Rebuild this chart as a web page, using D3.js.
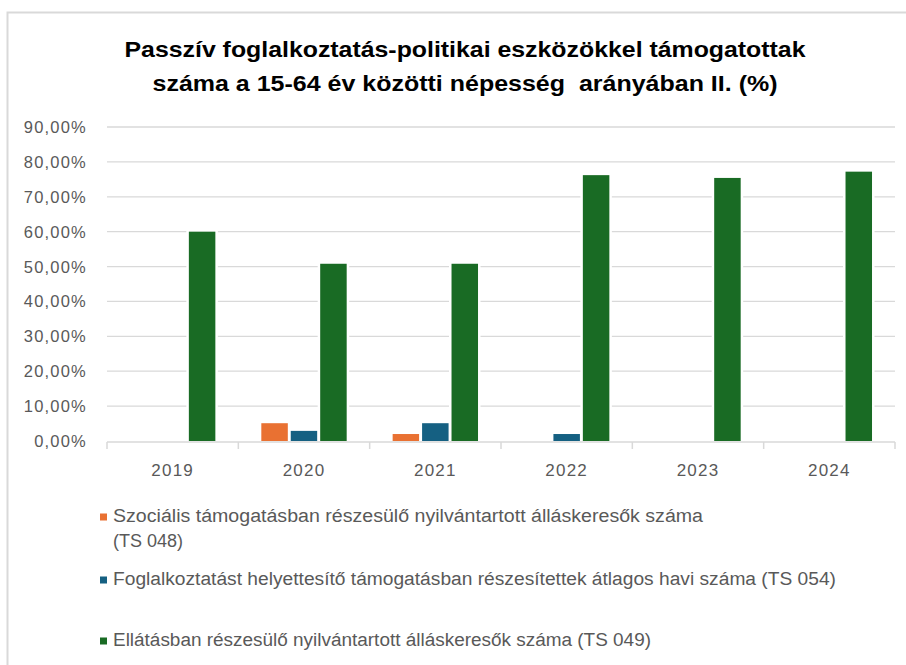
<!DOCTYPE html>
<html>
<head>
<meta charset="utf-8">
<script src="https://cdn.jsdelivr.net/npm/d3@7"></script>
<style>
  html, body { margin: 0; padding: 0; background: #fff; }
  svg { display: block; }
</style>
</head>
<body>
<svg id="chart" width="906" height="665"></svg>
<script>
const years = ["2019", "2020", "2021", "2022", "2023", "2024"];
const seriesNames = [
  "Szociális támogatásban részesülő nyilvántartott álláskeresők száma",
  "Foglalkoztatást helyettesítő támogatásban részesítettek átlagos havi száma (TS 054)",
  "Ellátásban részesülő nyilvántartott álláskeresők száma (TS 049)",
];
const ts048 = [null, 5.1, 2.0, null, null, null];
const ts054 = [null, 2.9, 5.1, 2.0, null, null];
const ts049 = [60.0, 50.8, 50.8, 76.2, 75.4, 77.2];
const colors = ["#E97132", "#156082", "#196B24"];
const yTicks = [0, 10, 20, 30, 40, 50, 60, 70, 80, 90];

const svg = d3.select("#chart");
const margin = { top: 127, left: 107, right: 11, bottom: 224 };
const innerW = 906 - margin.left - margin.right;
const innerH = 665 - margin.top - margin.bottom;

// chart border
svg.append("rect")
  .attr("x", 7.5).attr("y", 12.5)
  .attr("width", 930).attr("height", 700)
  .attr("fill", "none")
  .attr("stroke", "#d9d9d9")
  .attr("stroke-width", 2);

// title
const title = svg.append("text")
  .attr("text-anchor", "middle")
  .attr("font-family", "'Liberation Sans', Arial, sans-serif")
  .attr("font-weight", "bold")
  .attr("font-size", 22)
  .attr("fill", "#000")
  .style("white-space", "pre");
title.append("tspan").attr("x", 465).attr("y", 57)
  .attr("textLength", 681).attr("lengthAdjust", "spacingAndGlyphs")
  .text("Passzív foglalkoztatás-politikai eszközökkel támogatottak");
title.append("tspan").attr("x", 465).attr("y", 91)
  .attr("textLength", 625).attr("lengthAdjust", "spacingAndGlyphs")
  .text("száma a 15-64 év közötti népesség  arányában II. (%)");

const g = svg.append("g")
  .attr("transform", `translate(${margin.left},${margin.top})`);

const x0 = d3.scaleBand().domain(years).range([0, innerW]).padding(0);
const x1 = d3.scaleBand()
  .domain([0, 1, 2])
  .range([x0.bandwidth() * 0.175, x0.bandwidth() * 0.825])
  .paddingInner(0.1);
const y = d3.scaleLinear().domain([0, 90]).range([innerH, 0]);

const fmtPct = (d) => d3.format(".2f")(d).replace(".", ",") + "%";

// gridlines
g.append("g")
  .selectAll("line")
  .data(yTicks.filter((d) => d > 0))
  .join("line")
  .attr("x1", 0).attr("x2", innerW)
  .attr("y1", (d) => y(d)).attr("y2", (d) => y(d))
  .attr("stroke", "#d9d9d9")
  .attr("stroke-width", 1.3);

// y labels
g.append("g")
  .selectAll("text")
  .data(yTicks)
  .join("text")
  .attr("x", -20)
  .attr("y", (d) => y(d) + 6)
  .attr("text-anchor", "end")
  .attr("font-family", "'Liberation Sans', Arial, sans-serif")
  .attr("font-size", 16.5)
  .attr("letter-spacing", 1.2)
  .attr("fill", "#595959")
  .text(fmtPct);

// bars
const series = [ts048, ts054, ts049];
const barsG = g.append("g");
series.forEach((vals, si) => {
  barsG.append("g")
    .selectAll("rect")
    .data(years.map((yr, i) => ({ yr, v: vals[i] })).filter((d) => d.v != null))
    .join("rect")
    .attr("x", (d) => x0(d.yr) + x1(si))
    .attr("y", (d) => y(d.v))
    .attr("width", x1.bandwidth())
    .attr("height", (d) => y(0) - y(d.v))
    .attr("fill", colors[si])
    .attr("stroke", "#fff")
    .attr("stroke-width", 5)
    .attr("paint-order", "stroke");
});

// x axis
const xAxisG = g.append("g").attr("transform", `translate(0,${innerH + 1})`);
xAxisG.append("line")
  .attr("x1", 0).attr("x2", innerW)
  .attr("stroke", "#d9d9d9").attr("stroke-width", 1.5);
xAxisG.selectAll("line.tick")
  .data(d3.range(years.length + 1))
  .join("line")
  .attr("class", "tick")
  .attr("x1", (i) => i * x0.step()).attr("x2", (i) => i * x0.step())
  .attr("y1", 0).attr("y2", 7)
  .attr("stroke", "#d9d9d9").attr("stroke-width", 1.5);
xAxisG.selectAll("text")
  .data(years)
  .join("text")
  .attr("x", (d) => x0(d) + x0.bandwidth() / 2)
  .attr("y", 34)
  .attr("text-anchor", "middle")
  .attr("font-family", "'Liberation Sans', Arial, sans-serif")
  .attr("font-size", 17)
  .attr("letter-spacing", 1.2)
  .attr("fill", "#595959")
  .text((d) => d);

// legend
const legend = svg.append("g")
  .attr("font-family", "'Liberation Sans', Arial, sans-serif")
  .attr("font-size", 18)
  .attr("fill", "#595959");
const legendItems = [
  { lines: [seriesNames[0], "(TS 048)"], widths: [590, 70], y: 522 },
  { lines: [seriesNames[1]], widths: [723], y: 585 },
  { lines: [seriesNames[2]], widths: [538], y: 646 },
];
legendItems.forEach((it, i) => {
  legend.append("rect")
    .attr("x", 100).attr("y", it.y - 8.5)
    .attr("width", 7).attr("height", 7)
    .attr("fill", colors[i]);
  it.lines.forEach((ln, j) => {
    legend.append("text")
      .attr("x", 113).attr("y", it.y + j * 25)
      .attr("textLength", it.widths[j]).attr("lengthAdjust", "spacingAndGlyphs")
      .text(ln);
  });
});
</script>
</body>
</html>
